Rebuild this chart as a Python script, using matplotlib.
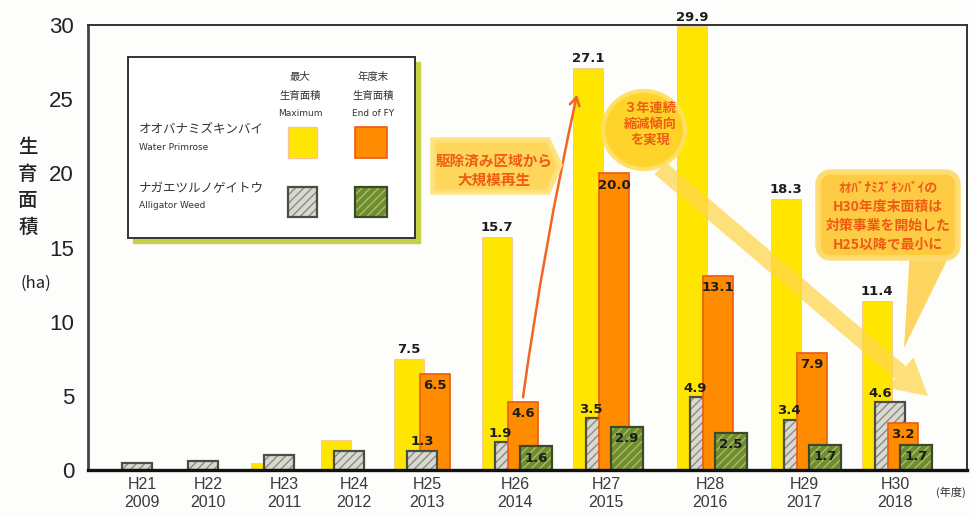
import numpy as np
import matplotlib.pyplot as plt
from matplotlib.patches import Rectangle, Polygon, Ellipse, FancyBboxPatch, FancyArrowPatch
from matplotlib.transforms import IdentityTransform

plt.rcParams['font.family'] = ['Noto Sans CJK JP', 'DejaVu Sans']
plt.rcParams['hatch.linewidth'] = 1.0

nan = np.nan

# fiscal years (Heisei / western)
years_jp = ['H21', 'H22', 'H23', 'H24', 'H25', 'H26', 'H27', 'H28', 'H29', 'H30']
years = ['2009', '2010', '2011', '2012', '2013', '2014', '2015', '2016', '2017', '2018']

# growth area (ha)
wp_max = [0.1, 0.1, 0.5, 2.0, 7.5, 15.7, 27.1, 29.9, 18.3, 11.4]   # Water Primrose, maximum
wp_end = [nan, nan, nan, nan, 6.5, 4.6, 20.0, 13.1, 7.9, 3.2]      # Water Primrose, end of FY
aw_max = [0.5, 0.6, 1.0, 1.3, 1.3, 1.9, 3.5, 4.9, 3.4, 4.6]        # Alligator Weed, maximum
aw_end = [nan, nan, nan, nan, nan, 1.6, 2.9, 2.5, 1.7, 1.7]        # Alligator Weed, end of FY

wp_max = np.array(wp_max, dtype=float)
wp_end = np.array(wp_end, dtype=float)
aw_max = np.array(aw_max, dtype=float)
aw_end = np.array(aw_end, dtype=float)

# group centres along x (early years sit closer together)
group_x = np.array([142, 208, 284, 354, 427, 515, 606, 710, 804, 895], dtype=float)
bw = 30

W, H = 974, 515
fig = plt.figure(figsize=(W / 100, H / 100), dpi=100)
fig.patch.set_facecolor('#fdfdfc')
ax = fig.add_axes([88 / W, (H - 470) / H, (967 - 88) / W, (470 - 25) / H])
ax.set_facecolor('#fdfdfc')
ax.set_xlim(88, 967)
ax.set_ylim(0, 30)

YEL, YEL_E = '#ffe600', '#f3c49a'
ORG, ORG_E = '#ff8c00', '#ec5a14'
GRY, GRY_H, GRY_E = '#d9d9d1', '#8b8b80', '#4b4e44'
GRN, GRN_H, GRN_E = '#6f8c2e', '#a9bd68', '#3c4a29'

x_y = group_x - 18
x_g = group_x - 5
x_o = group_x + 8
x_gr = group_x + 21

ax.bar(x_y, wp_max, bw, color=YEL, edgecolor=YEL_E, lw=0.6, zorder=3)
gray = ax.bar(x_g, aw_max, bw, color=GRY, edgecolor=GRY_H, hatch='////', lw=0, zorder=4)
gray_o = ax.bar(x_g, aw_max, bw, fill=False, edgecolor=GRY_E, lw=1.6, zorder=4)
ax.bar(x_o, wp_end, bw, color=ORG, edgecolor=ORG_E, lw=1.2, zorder=5)
ax.bar(x_gr, aw_end, bw + 2, color=GRN, edgecolor=GRN_H, hatch='////', lw=0, zorder=6)
ax.bar(x_gr, aw_end, bw + 2, fill=False, edgecolor=GRN_E, lw=1.6, zorder=6)

# where there is no end-of-year bar the grey bar sits in front of the orange one
front = np.isnan(aw_end)
for i in range(len(years)):
    if front[i]:
        gray[i].set_zorder(5.5)
        gray_o[i].set_zorder(5.5)

lab = dict(fontsize=9.5, fontweight='bold', color='#1c1c1c', family='DejaVu Sans', zorder=8)
for i in range(len(years)):
    if wp_max[i] >= 5:
        ax.text(x_y[i], wp_max[i] + 0.2, f'{wp_max[i]:.1f}', ha='center', va='bottom', **lab)
    if not np.isnan(wp_end[i]):
        ax.text(x_o[i], wp_end[i] - 0.8, f'{wp_end[i]:.1f}', ha='center', va='center', **lab)
    if wp_max[i] >= 5:
        gx = x_g[i] if front[i] else x_g[i] - 10
        ax.text(gx, aw_max[i] + 0.15, f'{aw_max[i]:.1f}', ha='center', va='bottom', **lab)
    if not np.isnan(aw_end[i]):
        ax.text(x_gr[i], aw_end[i] - 0.8, f'{aw_end[i]:.1f}', ha='center', va='center', **lab)

# regrowth arrow from H26 end-of-year to H27 maximum
ax.annotate('', xy=(x_y[6] - 11, wp_max[6] - 1.8), xytext=(x_o[5], wp_end[5] + 0.3),
            arrowprops=dict(arrowstyle='->,head_length=0.6,head_width=0.35', color='#f26522',
                            lw=1.8, shrinkA=0, shrinkB=0, connectionstyle='arc3,rad=-0.02'),
            zorder=9)

# axes frame and ticks
for s in ['top', 'right']:
    ax.spines[s].set_color('#333333')
    ax.spines[s].set_linewidth(1.4)
ax.spines['left'].set_color('#444444')
ax.spines['left'].set_linewidth(2.0)
ax.spines['bottom'].set_color('#111111')
ax.spines['bottom'].set_linewidth(2.4)
ax.spines['bottom'].set_zorder(7)

ax.set_yticks(range(0, 31, 5))
ax.set_yticklabels([str(v) for v in range(0, 31, 5)], family=['Liberation Sans', 'DejaVu Sans'],
                   fontsize=16, color='#222222')
ax.set_xticks(group_x)
ax.set_xticklabels([f'{a}\n{b}' for a, b in zip(years_jp, years)],
                   family=['Liberation Sans', 'DejaVu Sans'], fontsize=11.5, color='#3a3a3a',
                   linespacing=1.25)
ax.tick_params(axis='y', length=0, pad=10)
ax.tick_params(axis='x', length=0, pad=5)

pix = IdentityTransform()


def P(x, y):
    return (x, H - y)


# y axis title (vertical)
for ch, yy in zip('生育面積', [148, 175, 201, 227]):
    fig.text(*P(28, yy), ch, transform=pix, fontsize=14, fontweight='medium', color='#222222',
             ha='center', va='center')
fig.text(*P(36, 283), '(ha)', transform=pix, fontsize=12, color='#222222', ha='center', va='center')
fig.text(*P(951, 492), '(年度)', transform=pix, fontsize=8, color='#333333', ha='center', va='center')

# legend panel
fig.add_artist(Rectangle(P(133, 243), 287, 181, transform=pix, color='#c6d048', zorder=2))
fig.add_artist(Rectangle(P(128, 238), 287, 181, transform=pix, facecolor='white',
                         edgecolor='#333333', lw=1.4, zorder=2.1))
hdr = dict(transform=pix, ha='center', va='center', color='#333333', zorder=3)
for cx, lines in [(300, ['最大', '生育面積', 'Maximum']), (373, ['年度末', '生育面積', 'End of FY'])]:
    fig.text(*P(cx, 77), lines[0], fontsize=7.5, **hdr)
    fig.text(*P(cx, 96), lines[1], fontsize=7.5, **hdr)
    fig.text(*P(cx, 114), lines[2], fontsize=6.5, family='DejaVu Sans', **hdr)
row = dict(transform=pix, ha='left', va='center', color='#333333', zorder=3)
fig.text(*P(139, 129), 'オオバナミズキンバイ', fontsize=9, **row)
fig.text(*P(139, 148), 'Water Primrose', fontsize=6.5, family='DejaVu Sans', **row)
fig.text(*P(139, 188), 'ナガエツルノゲイトウ', fontsize=9, **row)
fig.text(*P(139, 206), 'Alligator Weed', fontsize=6.5, family='DejaVu Sans', **row)

fig.add_artist(Rectangle(P(288, 158), 29, 31, transform=pix, facecolor=YEL, edgecolor=YEL_E, lw=1, zorder=3))
fig.add_artist(Rectangle(P(355, 158), 32, 31, transform=pix, facecolor=ORG, edgecolor=ORG_E, lw=1.2, zorder=3))
fig.add_artist(Rectangle(P(288, 217), 29, 30, transform=pix, facecolor=GRY, edgecolor=GRY_H,
                         hatch='////', lw=0, zorder=3))
fig.add_artist(Rectangle(P(288, 217), 29, 30, transform=pix, fill=False, edgecolor=GRY_E, lw=1.6, zorder=3))
fig.add_artist(Rectangle(P(355, 217), 32, 30, transform=pix, facecolor=GRN, edgecolor=GRN_H,
                         hatch='////', lw=0, zorder=3))
fig.add_artist(Rectangle(P(355, 217), 32, 30, transform=pix, fill=False, edgecolor=GRN_E, lw=1.6, zorder=3))

note = dict(transform=pix, ha='center', va='center', color='#f05a14', fontweight='bold', zorder=6)

# callout: large-scale regrowth
pent = [(433, 140), (548, 140), (560, 165), (548, 192), (433, 192)]
fig.add_artist(Polygon([P(x, y) for x, y in pent], closed=True, transform=pix,
                       facecolor='#ffd24a', edgecolor='#ffe27a', lw=4, alpha=0.9, zorder=4))
fig.text(*P(494, 161), '駆除済み区域から', fontsize=10.5, **note)
fig.text(*P(494, 180), '大規模再生', fontsize=10.5, **note)

# big downward arrow showing the three-year decrease
fig.add_artist(FancyArrowPatch(P(660, 168), P(928, 396), transform=pix,
                               arrowstyle='simple,head_length=2.6,head_width=2.9,tail_width=1.2',
                               mutation_scale=10, shrinkA=0, shrinkB=0, color='#ffd54a',
                               alpha=0.72, lw=0, zorder=4))

# round bubble
fig.add_artist(Ellipse(P(644, 130), 82, 78, transform=pix, facecolor='#ffd21f',
                       edgecolor='#ffe066', lw=3, alpha=0.95, zorder=4.5))
fig.text(*P(650, 108), '３年連続', fontsize=9.5, **note)
fig.text(*P(650, 124), '縮減傾向', fontsize=9.5, **note)
fig.text(*P(650, 140), 'を実現', fontsize=9.5, **note)

# callout about H30 result
fig.add_artist(Polygon([P(910, 250), P(952, 250), P(904, 348)], closed=True, transform=pix,
                       facecolor='#ffcc3a', lw=0, alpha=0.8, zorder=4))
fig.add_artist(FancyBboxPatch(P(818, 258), 140, 86, transform=pix,
                              boxstyle='round,pad=0,rounding_size=14', facecolor='#ffc93a',
                              edgecolor='#ffdc70', lw=4, alpha=0.95, zorder=4.5))
fig.text(*P(888, 188), 'ｵｵﾊﾞﾅﾐｽﾞｷﾝﾊﾞｲの', fontsize=9.5, **note)
fig.text(*P(888, 207), 'H30年度末面積は', fontsize=10, **note)
fig.text(*P(888, 226), '対策事業を開始した', fontsize=10, **note)
fig.text(*P(888, 245), 'H25以降で最小に', fontsize=10, **note)

fig.savefig('out.png', dpi=100, facecolor=fig.get_facecolor())
